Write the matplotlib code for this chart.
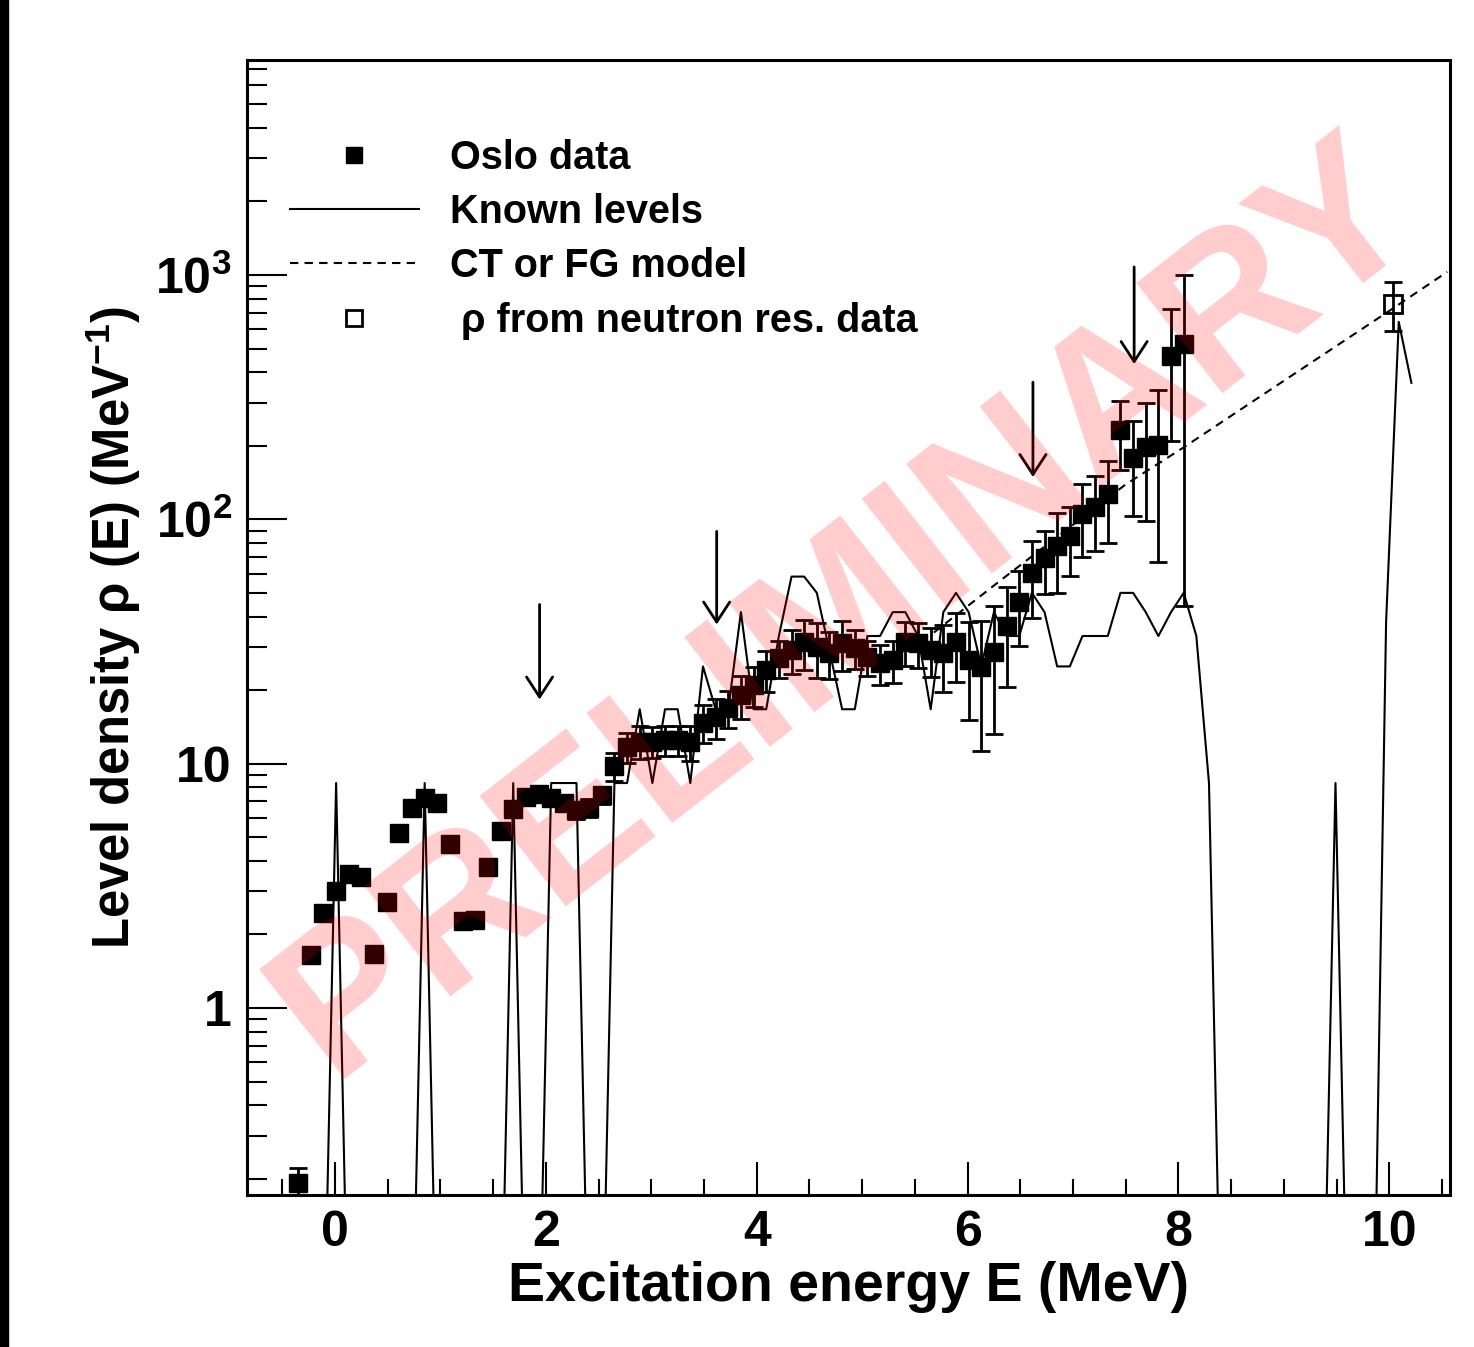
import matplotlib
matplotlib.use('Agg')
import matplotlib.pyplot as plt
from matplotlib.lines import Line2D
from matplotlib.patches import Rectangle
from matplotlib.ticker import LogLocator, MultipleLocator, NullFormatter

plt.rcParams['font.family'] = ['Liberation Sans', 'DejaVu Sans']
plt.rcParams['font.weight'] = 'bold'
plt.rcParams['mathtext.default'] = 'regular'

# bin centres in MeV (0.12 MeV bins)
energy = [-0.35, -0.23, -0.11, 0.01, 0.13, 0.25, 0.37, 0.49, 0.61, 0.73,
          0.85, 0.97, 1.09, 1.21, 1.33, 1.45, 1.57, 1.69, 1.81, 1.93,
          2.05, 2.17, 2.29, 2.41, 2.53, 2.65, 2.77, 2.89, 3.01, 3.13,
          3.25, 3.37, 3.49, 3.61, 3.73, 3.85, 3.97, 4.09, 4.21, 4.33,
          4.45, 4.57, 4.69, 4.81, 4.93, 5.05, 5.17, 5.29, 5.41, 5.53,
          5.65, 5.77, 5.89, 6.01, 6.13, 6.25, 6.37, 6.49, 6.61, 6.73,
          6.85, 6.97, 7.09, 7.21, 7.33, 7.45, 7.57, 7.69, 7.81, 7.93,
          8.05, 8.17, 8.29, 8.41, 8.53, 8.65, 8.77, 8.89, 9.01, 9.13,
          9.25, 9.37, 9.49, 9.61, 9.73, 9.85, 9.97, 10.09, 10.21]

# Oslo data (first 71 bins)
oslo_rho = [0.192, 1.65, 2.45, 3.01, 3.53, 3.44, 1.66, 2.72, 5.2, 6.59,
            7.24, 6.9, 4.69, 2.27, 2.29, 3.78, 5.3, 6.53, 7.31, 7.52,
            7.24, 6.9, 6.46, 6.59, 7.45, 9.8, 11.7, 12.3, 12.3, 12.5,
            12.5, 12.3, 14.7, 15.5, 16.9, 19.1, 21.0, 24.2, 27.1, 29.2,
            31.5, 30.0, 28.4, 31.2, 29.8, 27.4, 25.8, 26.6, 31.5, 31.2,
            29.2, 28.4, 31.5, 26.6, 24.9, 28.7, 36.6, 45.9, 60.4, 69.6,
            77.9, 85.6, 105, 112, 127, 232, 178, 198, 202, 467,
            522]
oslo_err = [0.03, 0.08, 0.12, 0.15, 0.18, 0.17, 0.08, 0.14, 0.26, 0.33,
            0.36, 0.35, 0.23, 0.11, 0.11, 0.19, 0.27, 0.33, 0.37, 0.38,
            0.36, 0.5, 0.5, 0.55, 0.6, 1.3, 1.6, 1.9, 1.8, 1.8,
            1.8, 2.0, 2.6, 2.9, 2.9, 3.8, 3.9, 4.6, 4.6, 6.0,
            7.3, 7.5, 6.1, 7.2, 5.3, 4.5, 4.9, 5.3, 6.5, 6.5,
            6.6, 8.7, 10, 11.5, 13.6, 15.5, 16, 15.5, 21, 20,
            28, 27, 35, 38, 47, 73, 75, 100, 135, 257,
            478]

# known levels per MeV; empty bins given as 0.03 (below the plot floor)
known_rho = [0.03, 0.03, 0.03, 8.33, 0.03, 0.03, 0.03, 0.03, 0.03, 0.03,
             8.33, 0.03, 0.03, 0.03, 0.03, 0.03, 0.03, 8.33, 0.03, 0.03,
             8.33, 8.33, 8.33, 0.03, 0.03, 8.33, 8.33, 16.7, 8.33, 16.7,
             16.7, 8.33, 25.0, 16.7, 16.7, 41.7, 16.7, 16.7, 33.3, 58.3,
             58.3, 50.0, 29.0, 16.7, 16.7, 33.3, 33.3, 41.7, 41.7, 33.3,
             16.7, 41.7, 50.0, 41.7, 25.0, 41.7, 33.3, 33.3, 50.0, 41.7,
             25.0, 25.0, 33.3, 33.3, 33.3, 50.0, 50.0, 41.7, 33.3, 41.7,
             50.0, 33.3, 8.33, 0.03, 0.03, 0.03, 0.03, 0.03, 0.03, 0.03,
             0.03, 0.03, 8.33, 0.03, 0.03, 0.03, 38.0, 643, 362]

# CT / FG model curve
model_E = [5.68, 6.3, 7.5, 8.05, 9.0, 10.0, 10.55]
model_rho = [34.4, 55.7, 139, 197, 369, 713, 1030]

# rho from neutron resonance data
res_E = [10.04]
res_rho = [762]
res_err = [170]

# arrows
arrow_E = [1.94, 3.62, 6.62, 7.58]
arrow_tip = [18.3, 37.1, 149, 432]
arrow_top = [44.8, 89.3, 364, 1079]

fig = plt.figure(figsize=(14.74, 13.47), dpi=100)
ax = fig.add_axes([0.1676, 0.1128, 0.8161, 0.8427])

ax.plot(energy, known_rho, color='black', lw=1.5, zorder=2)
ax.plot(model_E, model_rho, color='black', lw=1.5, ls=(0, (4, 3)), zorder=2)
ax.errorbar(energy[:len(oslo_rho)], oslo_rho, yerr=oslo_err, fmt='s',
            color='black', ms=13, elinewidth=2, capsize=6.5, capthick=2,
            zorder=3)
ax.errorbar(res_E, res_rho, yerr=res_err, fmt='s', mfc='none', mec='black',
            mew=2, color='black', ms=13, elinewidth=2, capsize=6.5,
            capthick=2, zorder=3)

for e, tip, top in zip(arrow_E, arrow_tip, arrow_top):
    ax.annotate('', xy=(e, tip), xytext=(e, top),
                arrowprops=dict(arrowstyle='->,head_length=0.72,head_width=0.47',
                                lw=2, color='black', mutation_scale=20,
                                shrinkA=0, shrinkB=0))

ax.set_yscale('log')
ax.set_xlim(-0.835, 10.576)
ax.set_ylim(0.1715, 7590)

ax.set_xticks([0, 2, 4, 6, 8, 10])
ax.xaxis.set_minor_locator(MultipleLocator(0.5))
ax.set_yticks([1, 10, 100, 1000], labels=['1', '10', '$10^{2}$', '$10^{3}$'])
ax.yaxis.set_minor_locator(LogLocator(base=10, subs=[2, 3, 4, 5, 6, 7, 8, 9]))
ax.yaxis.set_minor_formatter(NullFormatter())

ax.tick_params(axis='both', which='both', direction='in', width=1.5,
               top=False, right=False, labelsize=36)
ax.tick_params(axis='x', which='major', length=24, pad=11)
ax.tick_params(axis='x', which='minor', length=11.5)
ax.tick_params(axis='y', which='major', length=29, pad=11)
ax.tick_params(axis='y', which='minor', length=14.5)
for s in ax.spines.values():
    s.set_linewidth(2.2)

ax.set_xlabel('Excitation energy E (MeV)', fontsize=40, fontweight='bold',
              va='top')
ax.xaxis.set_label_coords(0.5, -0.058)
ax.set_ylabel('Level density ρ (E) (MeV$^{-1}$)', fontsize=36.5,
              fontweight='bold', va='center')
ax.yaxis.set_label_coords(-0.1115, 0.5)

handles = [Line2D([], [], marker='s', color='black', ls='none', ms=12),
           Line2D([], [], color='black', lw=1.5),
           Line2D([], [], color='black', lw=1.5, ls=(0, (4, 3))),
           Line2D([], [], marker='s', mfc='none', mec='black', mew=2,
                  ls='none', ms=12)]
labels = ['Oslo data', 'Known levels', 'CT or FG model',
          ' ρ from neutron res. data']
ax.legend(handles, labels, loc='upper left', bbox_to_anchor=(0.0357, 0.9305),
          frameon=False, prop={'size': 28.5, 'weight': 'bold'},
          handlelength=3.25, handletextpad=0.8, labelspacing=0.41,
          borderaxespad=0, borderpad=0)

# black strip on left edge
fig.patches.append(Rectangle((0, 0), 8 / 1474, 1, transform=fig.transFigure,
                             color='black', zorder=0))

fig.text(0.574, 0.547, 'PRELIMINARY', rotation=38, fontsize=146,
         color='red', alpha=0.2, weight='bold', ha='center', va='center',
         rotation_mode='anchor', zorder=10)

fig.savefig('out.png', dpi=100)
